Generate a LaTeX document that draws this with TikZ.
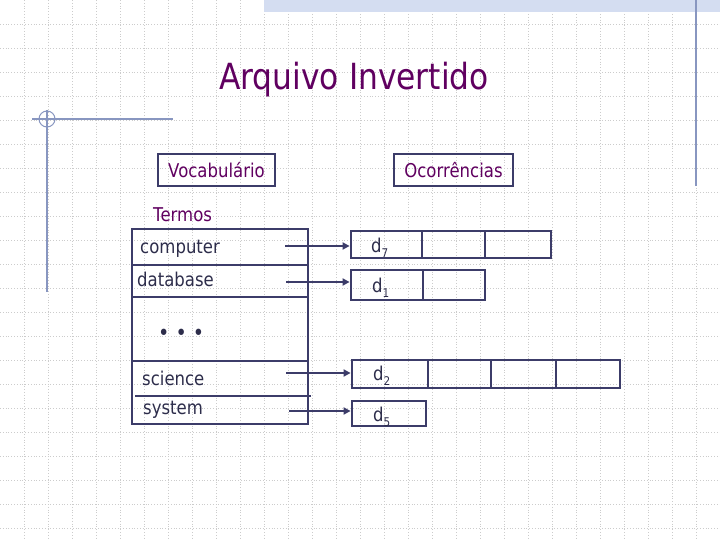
\documentclass[tikz,border=0pt]{standalone}
\usepackage{fontspec}
\setmainfont[FakeStretch=0.87]{DejaVu Sans}
\usetikzlibrary{arrows.meta}
\definecolor{titlepurple}{RGB}{96,0,96}
\definecolor{boxline}{RGB}{60,60,105}
\definecolor{bodytext}{RGB}{45,45,75}
\definecolor{decoline}{RGB}{136,150,192}
\definecolor{bandblue}{RGB}{212,221,241}
\newcommand{\dsub}[1]{d{\fontsize{12}{12}\selectfont\raisebox{-5pt}{#1}}}
\begin{document}
\begin{tikzpicture}[x=1pt,y=-1pt]
        \tikzset{
            headbox/.style={draw=boxline,line width=1.4pt,minimum width=117pt,minimum height=32pt,inner sep=0pt,text=titlepurple,font=\fontsize{19}{19}\selectfont},
            term/.style={anchor=base west,inner sep=0pt,text=bodytext,font=\fontsize{19}{19}\selectfont},
            cell/.style={draw=boxline,line width=2.8pt,inner sep=0pt},
            link/.style={draw=boxline,line width=2.2pt,-{Triangle[length=7pt,width=7pt]}},
        }
        % background
        \useasboundingbox (0,0) rectangle (720,540);
        \foreach \g in {24,48,...,720} {
            \draw[gray!40,dotted,line width=0.8pt] (\g,0) -- (\g,540);
        }
        \foreach \g in {24,48,...,528} {
            \draw[gray!40,dotted,line width=0.8pt] (0,\g) -- (720,\g);
        }
        \fill[bandblue] (264,0) rectangle (720,12);
        \draw[decoline,line width=1.2pt] (696,0) -- (696,186);
        \draw[decoline,line width=1.2pt] (32,119) -- (173,119);
        \draw[decoline,line width=1.2pt] (47,110) -- (47,292);
        \draw[decoline,line width=1pt] (47,119) circle (8);

        \node[anchor=base,text=titlepurple,font=\fontsize{36}{36}\selectfont] (title) at (354,90) {Arquivo Invertido};
        \node[headbox] (vocab) at (216.5,170) {Vocabulário};
        \node[headbox,minimum width=119pt] (occ) at (453.5,170) {Ocorrências};
        \node[term,text=titlepurple] (termos) at (153,222) {Termos};

        % vocabulary table
        \draw[boxline,line width=2.8pt] (132,229) rectangle (308,424);
        \draw[boxline,line width=2.8pt] (132,265) -- (308,265);
        \draw[boxline,line width=2.8pt] (132,297) -- (308,297);
        \draw[boxline,line width=2.8pt] (132,361) -- (308,361);
        \draw[boxline,line width=2.8pt] (135,396) -- (311,396);
        \node[term] (computer) at (140,253) {computer};
        \node[term] (database) at (137,286) {database};
        \node[term,font=\fontsize{22}{22}\selectfont] (dots) at (158,340) {• • •};
        \node[term] (science) at (142,385) {science};
        \node[term] (system) at (143,414) {system};

        % occurrence lists
        \node[cell,minimum width=71pt,minimum height=27pt] (l7a) at (386.5,244.5) {};
        \node[cell,minimum width=63pt,minimum height=27pt] (l7b) at (453.5,244.5) {};
        \node[cell,minimum width=66pt,minimum height=27pt] (l7c) at (518,244.5) {};
        \node[cell,minimum width=72pt,minimum height=30pt] (l1a) at (387,285) {};
        \node[cell,minimum width=62pt,minimum height=30pt] (l1b) at (454,285) {};
        \node[cell,minimum width=76pt,minimum height=28pt] (l2a) at (390,374) {};
        \node[cell,minimum width=63pt,minimum height=28pt] (l2b) at (459.5,374) {};
        \node[cell,minimum width=65pt,minimum height=28pt] (l2c) at (523.5,374) {};
        \node[cell,minimum width=64pt,minimum height=28pt] (l2d) at (588,374) {};
        \node[cell,minimum width=74pt,minimum height=25pt] (l5a) at (389,413.5) {};

        \node[term] (d7) at (371,252) {\dsub{7}};
        \node[term] (d1) at (372,292) {\dsub{1}};
        \node[term] (d2) at (373,380) {\dsub{2}};
        \node[term] (d5) at (373,421) {\dsub{5}};

        \coordinate (s7) at (285,246);
        \coordinate (s1) at (286,282);
        \coordinate (s2) at (286,373);
        \coordinate (s5) at (289,411);
        \draw[link] (s7) -- (s7 -| l7a.west);
        \draw[link] (s1) -- (s1 -| l1a.west);
        \draw[link] (s2) -- (s2 -| l2a.west);
        \draw[link] (s5) -- (s5 -| l5a.west);
    \end{tikzpicture}
\end{document}
